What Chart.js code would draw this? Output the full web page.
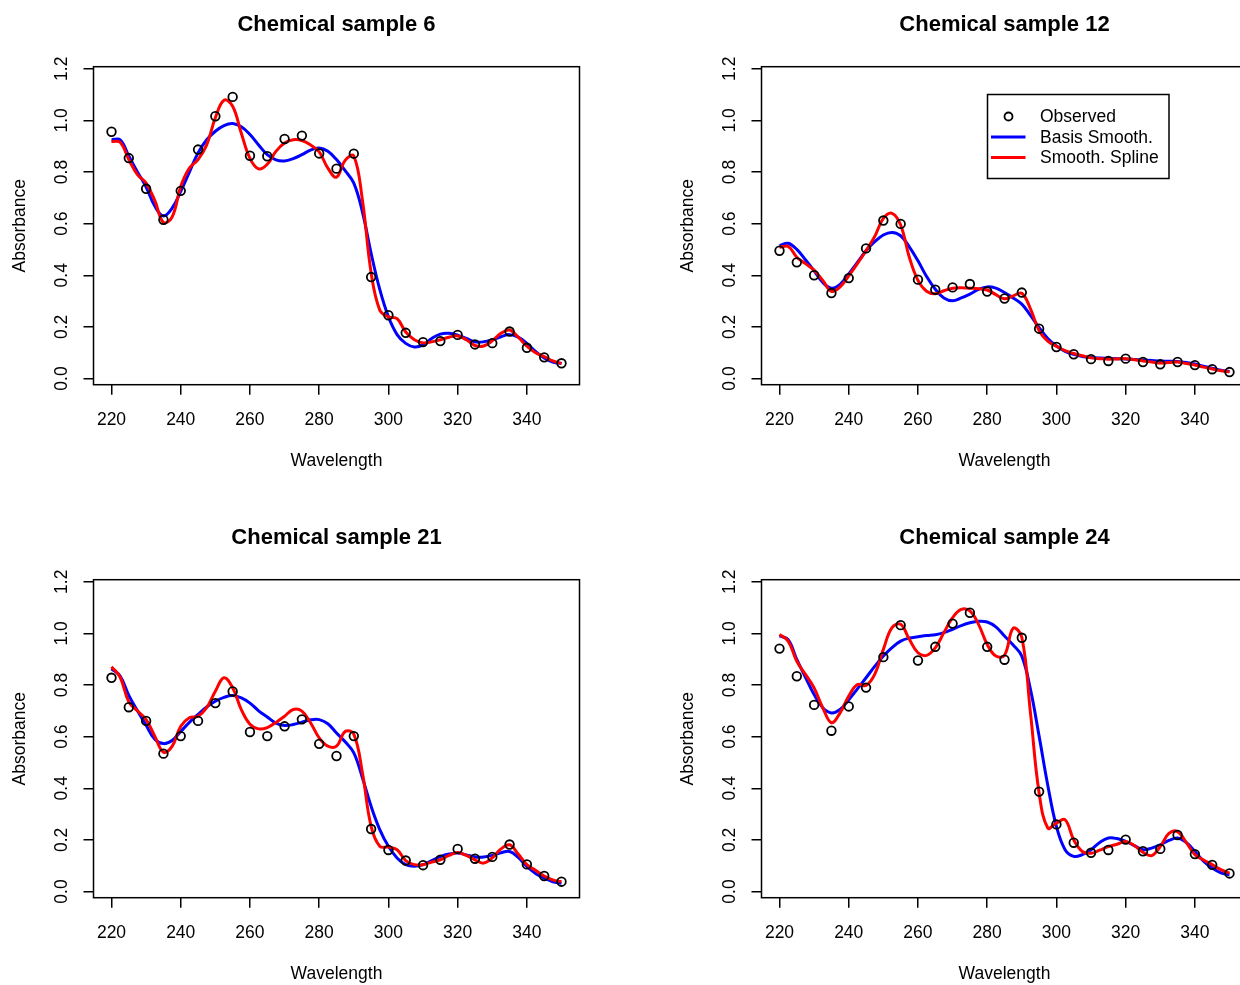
<!DOCTYPE html>
<html>
<head>
<meta charset="utf-8">
<script src="https://cdn.jsdelivr.net/npm/chart.js@4"></script>
<style>
  html, body { margin: 0; padding: 0; background: #fff; }
  body { width: 1240px; height: 985px; position: relative; overflow: hidden; }
  canvas { position: absolute; }
</style>
</head>
<body>
<canvas id="p6" width="620" height="492" style="left:0px;top:0px"></canvas>
<canvas id="p12" width="620" height="492" style="left:668px;top:0px"></canvas>
<canvas id="p21" width="620" height="492" style="left:0px;top:513px"></canvas>
<canvas id="p24" width="620" height="492" style="left:668px;top:513px"></canvas>
<script>
// ── Data ─────────────────────────────────────────
const wavelengths = [220, 225, 230, 235, 240, 245, 250, 255, 260, 265, 270, 275, 280, 285,
  290, 295, 300, 305, 310, 315, 320, 325, 330, 335, 340, 345, 350];

const curveWavelengths = [220, 222.5, 225, 227.5, 230, 232.5, 235, 237.5, 240, 242.5, 245, 247.5,
  250, 252.5, 255, 257.5, 260, 262.5, 265, 267.5, 270, 272.5, 275, 277.5, 280, 282.5, 285, 287.5,
  290, 292.5, 295, 297.5, 300, 302.5, 305, 307.5, 310, 312.5, 315, 317.5, 320, 322.5, 325, 327.5,
  330, 332.5, 335, 337.5, 340, 342.5, 345, 347.5, 350];

const xTicks = [220, 240, 260, 280, 300, 320, 340];
const yTicks = [0, 0.2, 0.4, 0.6, 0.8, 1.0, 1.2];

// sample 6
const obs6 = [0.956, 0.854, 0.735, 0.615, 0.727, 0.887, 1.016, 1.091, 0.863, 0.861, 0.928, 0.941, 0.872, 0.813,
  0.871, 0.393, 0.245, 0.177, 0.141, 0.145, 0.169, 0.132, 0.137, 0.182, 0.119, 0.082, 0.059];
const basis6 = [0.925, 0.925, 0.862, 0.800, 0.742, 0.668, 0.630, 0.660, 0.725, 0.800, 0.874, 0.925,
  0.958, 0.980, 0.988, 0.975, 0.945, 0.905, 0.867, 0.847, 0.843, 0.852, 0.867, 0.885, 0.893, 0.880, 0.848, 0.805,
  0.757, 0.645, 0.485, 0.345, 0.239, 0.170, 0.136, 0.122, 0.130, 0.155, 0.172, 0.175, 0.168, 0.155, 0.142, 0.142,
  0.150, 0.162, 0.170, 0.160, 0.136, 0.105, 0.080, 0.064, 0.058];
const spline6 = [0.918, 0.915, 0.848, 0.790, 0.757, 0.690, 0.605, 0.625, 0.744, 0.815, 0.848, 0.905,
  1.010, 1.078, 1.055, 0.950, 0.853, 0.812, 0.830, 0.880, 0.912, 0.925, 0.922, 0.905, 0.878, 0.815, 0.780, 0.845,
  0.862, 0.690, 0.410, 0.265, 0.239, 0.232, 0.180, 0.150, 0.138, 0.142, 0.150, 0.160, 0.165, 0.150, 0.128, 0.126,
  0.146, 0.175, 0.188, 0.160, 0.125, 0.100, 0.085, 0.068, 0.058];

// sample 12
const obs12 = [0.495, 0.450, 0.400, 0.331, 0.389, 0.504, 0.612, 0.599, 0.383, 0.344, 0.353, 0.366, 0.337, 0.310,
  0.333, 0.193, 0.122, 0.094, 0.075, 0.068, 0.077, 0.064, 0.055, 0.064, 0.052, 0.036, 0.025];
const basis12 = [0.515, 0.524, 0.500, 0.460, 0.417, 0.372, 0.350, 0.365, 0.405, 0.450, 0.495, 0.530,
  0.556, 0.566, 0.553, 0.510, 0.456, 0.395, 0.346, 0.312, 0.301, 0.312, 0.327, 0.345, 0.355, 0.350, 0.333, 0.312,
  0.288, 0.245, 0.197, 0.155, 0.126, 0.105, 0.094, 0.085, 0.081, 0.079, 0.078, 0.077, 0.076, 0.074, 0.072, 0.070,
  0.068, 0.067, 0.066, 0.062, 0.056, 0.048, 0.040, 0.032, 0.027];
const spline12 = [0.508, 0.512, 0.470, 0.445, 0.420, 0.380, 0.338, 0.355, 0.398, 0.445, 0.495, 0.550,
  0.620, 0.640, 0.595, 0.470, 0.380, 0.338, 0.328, 0.340, 0.350, 0.352, 0.350, 0.348, 0.343, 0.325, 0.309, 0.320,
  0.330, 0.270, 0.185, 0.145, 0.125, 0.108, 0.097, 0.088, 0.080, 0.077, 0.075, 0.076, 0.077, 0.073, 0.068, 0.064,
  0.060, 0.062, 0.064, 0.058, 0.052, 0.044, 0.037, 0.030, 0.026];

// sample 21
const obs21 = [0.828, 0.714, 0.661, 0.534, 0.602, 0.661, 0.730, 0.775, 0.618, 0.602, 0.640, 0.667, 0.572, 0.525,
  0.602, 0.242, 0.161, 0.120, 0.102, 0.123, 0.165, 0.127, 0.134, 0.182, 0.105, 0.060, 0.038];
const basis21 = [0.863, 0.835, 0.760, 0.700, 0.644, 0.590, 0.573, 0.585, 0.620, 0.655, 0.686, 0.715,
  0.737, 0.752, 0.759, 0.750, 0.730, 0.700, 0.676, 0.652, 0.643, 0.647, 0.656, 0.665, 0.666, 0.650, 0.614, 0.580,
  0.537, 0.440, 0.330, 0.240, 0.175, 0.130, 0.104, 0.098, 0.104, 0.120, 0.135, 0.145, 0.149, 0.142, 0.134, 0.134,
  0.140, 0.150, 0.155, 0.132, 0.097, 0.070, 0.052, 0.038, 0.032];
const spline21 = [0.871, 0.830, 0.735, 0.700, 0.666, 0.602, 0.540, 0.562, 0.640, 0.673, 0.679, 0.712,
  0.776, 0.828, 0.789, 0.705, 0.648, 0.630, 0.635, 0.655, 0.679, 0.705, 0.699, 0.654, 0.595, 0.563, 0.563, 0.620,
  0.610, 0.459, 0.252, 0.175, 0.172, 0.162, 0.120, 0.104, 0.104, 0.114, 0.123, 0.140, 0.151, 0.140, 0.123, 0.110,
  0.130, 0.165, 0.181, 0.145, 0.104, 0.082, 0.060, 0.045, 0.038];

// sample 24
const obs24 = [0.941, 0.834, 0.723, 0.623, 0.717, 0.790, 0.908, 1.032, 0.895, 0.948, 1.038, 1.080, 0.948, 0.898,
  0.983, 0.387, 0.260, 0.189, 0.150, 0.161, 0.201, 0.156, 0.165, 0.219, 0.145, 0.103, 0.070];
const basis24 = [0.990, 0.976, 0.899, 0.830, 0.763, 0.712, 0.692, 0.705, 0.743, 0.785, 0.828, 0.872,
  0.912, 0.945, 0.970, 0.982, 0.987, 0.992, 0.995, 1.003, 1.016, 1.030, 1.041, 1.047, 1.044, 1.025, 0.990, 0.955,
  0.912, 0.783, 0.602, 0.412, 0.252, 0.162, 0.136, 0.143, 0.162, 0.190, 0.207, 0.205, 0.194, 0.178, 0.162, 0.168,
  0.181, 0.198, 0.207, 0.190, 0.155, 0.118, 0.091, 0.072, 0.065];
const spline24 = [0.996, 0.970, 0.892, 0.841, 0.789, 0.712, 0.654, 0.692, 0.757, 0.802, 0.798, 0.841,
  0.938, 1.022, 1.035, 0.977, 0.925, 0.915, 0.944, 1.003, 1.061, 1.093, 1.087, 1.035, 0.957, 0.912, 0.915, 1.020,
  0.985, 0.692, 0.382, 0.246, 0.265, 0.278, 0.200, 0.155, 0.148, 0.160, 0.174, 0.183, 0.194, 0.178, 0.152, 0.139,
  0.174, 0.225, 0.232, 0.190, 0.143, 0.122, 0.104, 0.085, 0.071];

const panels = [
  { id: 'p6', title: 'Chemical sample 6', obs: obs6, basis: basis6, spline: spline6, legend: false },
  { id: 'p12', title: 'Chemical sample 12', obs: obs12, basis: basis12, spline: spline12, legend: true },
  { id: 'p21', title: 'Chemical sample 21', obs: obs21, basis: basis21, spline: spline21, legend: false },
  { id: 'p24', title: 'Chemical sample 24', obs: obs24, basis: basis24, spline: spline24, legend: false },
];

// ── Style ────────────────────────────────────────
const FONT = "'Liberation Sans', Arial, Helvetica, sans-serif";
Chart.defaults.font.family = FONT;
Chart.defaults.font.size = 17.5;
Chart.defaults.color = '#000';

const BLUE = '#0000ff';
const RED = '#ff0000';

// R-style box, bold main title and optional legend
const framePlugin = {
  id: 'frame',
  afterDatasetsDraw(chart, args, opts) {
    const { ctx, chartArea: a } = chart;
    ctx.save();
    ctx.strokeStyle = '#000';
    ctx.lineWidth = 1.5;
    ctx.strokeRect(a.left, a.top, a.right - a.left, a.bottom - a.top);

    ctx.fillStyle = '#000';
    ctx.font = 'bold 22px ' + FONT;
    ctx.textAlign = 'center';
    ctx.textBaseline = 'alphabetic';
    ctx.fillText(opts.title, (a.left + a.right) / 2, 31);

    if (opts.legend) {
      const L = { left: 319.5, top: 94.5, right: 501, bottom: 178.5 };
      ctx.fillStyle = '#fff';
      ctx.fillRect(L.left, L.top, L.right - L.left, L.bottom - L.top);
      ctx.strokeStyle = '#000';
      ctx.lineWidth = 1.5;
      ctx.strokeRect(L.left, L.top, L.right - L.left, L.bottom - L.top);

      const rows = [116.5, 137, 157.5];
      ctx.lineWidth = 1.8;
      ctx.beginPath();
      ctx.arc(340.5, rows[0], 4, 0, Math.PI * 2);
      ctx.stroke();

      ctx.lineWidth = 3;
      ctx.strokeStyle = BLUE;
      ctx.beginPath(); ctx.moveTo(323, rows[1]); ctx.lineTo(357.5, rows[1]); ctx.stroke();
      ctx.strokeStyle = RED;
      ctx.beginPath(); ctx.moveTo(323, rows[2]); ctx.lineTo(357.5, rows[2]); ctx.stroke();

      ctx.fillStyle = '#000';
      ctx.font = '17.5px ' + FONT;
      ctx.textAlign = 'left';
      ctx.textBaseline = 'middle';
      ['Observed', 'Basis Smooth.', 'Smooth. Spline'].forEach((t, i) => ctx.fillText(t, 372, rows[i] + 1));
    }
    ctx.restore();
  },
};

const TICK_GRID = {
  drawOnChartArea: false,
  drawTicks: true,
  tickLength: 10,
  color: '#000',
  lineWidth: 1.5,
};

// ── Panels ───────────────────────────────────────
function renderPanel(p) {
  const ctx = document.getElementById(p.id).getContext('2d');
  new Chart(ctx, {
    type: 'line',
    data: {
      datasets: [
        {
          label: 'Observed',
          data: wavelengths.map((w, i) => ({ x: w, y: p.obs[i] })),
          showLine: false,
          pointRadius: 4.3,
          pointBorderWidth: 1.8,
          pointBorderColor: '#000',
          pointBackgroundColor: 'rgba(0,0,0,0)',
          order: 0,
        },
        {
          label: 'Basis Smooth.',
          data: curveWavelengths.map((w, i) => ({ x: w, y: p.basis[i] })),
          borderColor: BLUE,
          borderWidth: 3,
          pointRadius: 0,
          tension: 0.4,
          fill: false,
          order: 2,
        },
        {
          label: 'Smooth. Spline',
          data: curveWavelengths.map((w, i) => ({ x: w, y: p.spline[i] })),
          borderColor: RED,
          borderWidth: 3,
          pointRadius: 0,
          tension: 0.4,
          fill: false,
          order: 1,
        },
      ],
    },
    options: {
      responsive: false,
      animation: false,
      devicePixelRatio: 1,
      layout: { padding: { left: 0, top: 66.7, right: 40.5, bottom: 0 } },
      plugins: {
        legend: { display: false },
        tooltip: { enabled: false },
        title: { display: false },
        frame: { title: p.title, legend: p.legend },
      },
      scales: {
        x: {
          type: 'linear',
          min: 214.8,
          max: 355.2,
          border: { display: false },
          grid: TICK_GRID,
          afterBuildTicks: (s) => { s.ticks = xTicks.map((v) => ({ value: v })); },
          afterFit: (s) => { s.height = 107.3; },
          ticks: { padding: 15, maxRotation: 0, autoSkip: false, callback: (v) => String(v) },
          title: { display: true, text: 'Wavelength', padding: { top: 0, bottom: 20.3 } },
        },
        y: {
          type: 'linear',
          min: -0.024,
          max: 1.208,
          border: { display: false },
          grid: TICK_GRID,
          afterBuildTicks: (s) => { s.ticks = yTicks.map((v) => ({ value: v })); },
          afterFit: (s) => { s.width = 93.5; },
          ticks: {
            padding: 8.8,
            minRotation: 90,
            maxRotation: 90,
            crossAlign: 'center',
            autoSkip: false,
            callback: (v) => v.toFixed(1),
          },
          title: { display: true, text: 'Absorbance', padding: { top: 9.5, bottom: 0 } },
        },
      },
    },
    plugins: [framePlugin],
  });
}

panels.forEach(renderPanel);
</script>
</body>
</html>
